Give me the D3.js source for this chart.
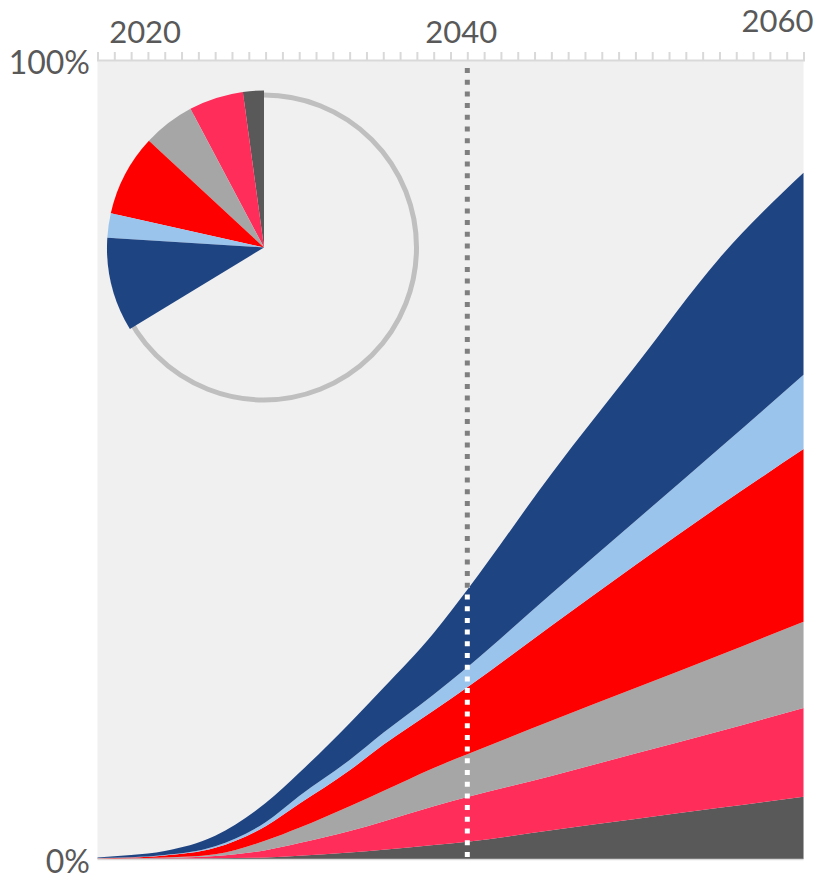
<!DOCTYPE html>
<html>

<head>
    <meta charset="utf-8">
    <script src="https://d3js.org/d3.v7.min.js"></script>
    <style>
        body { margin: 0; background: #fff; }
        text { font-family: Lato, "Open Sans", sans-serif; }
    </style>
</head>

<body>
    <script>
        // years, values are the share (%) of each layer
        var years = [2018, 2020, 2022, 2025, 2028, 2030, 2033, 2035, 2038, 2040, 2045, 2050, 2055, 2060];

        var darkGrey  = [0.02, 0.03, 0.05, 0.1, 0.2, 0.4, 0.8, 1.15, 1.75, 2.15, 3.6, 5.0, 6.4, 7.8];
        var pink      = [0.02, 0.03, 0.07, 0.28, 0.9, 1.6, 2.7, 3.55, 4.85, 5.61, 6.8, 8.2, 9.6, 11.1];
        var grey      = [0.02, 0.03, 0.06, 0.22, 1.2, 1.9, 3.1, 3.8, 4.8, 5.34, 6.9, 8.2, 9.5, 10.8];
        var red       = [0.04, 0.1, 0.26, 0.8, 1.8, 3.0, 4.5, 5.8, 7.2, 8.4, 11.9, 15.4, 18.7, 21.6];
        var lightBlue = [0.02, 0.03, 0.06, 0.2, 0.5, 1.0, 1.3, 1.5, 2.0, 2.5, 4.0, 5.5, 7.2, 9.3];
        var darkBlue  = [0.08, 0.28, 0.5, 1.3, 2.4, 2.9, 4.6, 5.6, 7.7, 9.7, 15.0, 19.4, 23.8, 25.3];

        var seriesNames = ["darkGrey", "pink", "grey", "red", "lightBlue", "darkBlue"];
        var seriesValues = [darkGrey, pink, grey, red, lightBlue, darkBlue];
        var seriesColors = ["#595959", "#ff2d5a", "#a6a6a6", "#ff0000", "#9bc4ec", "#1f4482"];

        var yearLabels = [2020, 2040, 2060];
        var percentLabels = [0, 1];
        var markerYear = 2040;   // dotted line + pie show this year
    </script>
    <script>
        var outerWidth = 828, outerHeight = 882,
            margin = { top: 60, right: 24.5, bottom: 23, left: 97.5 },
            width = outerWidth - margin.left - margin.right,
            height = outerHeight - margin.top - margin.bottom;

        var svg = d3.select("body").append("svg")
            .attr("width", outerWidth)
            .attr("height", outerHeight);

        var g = svg.append("g")
            .attr("transform", "translate(" + margin.left + "," + margin.top + ")");

        // one row per year, keyed by series name
        var table = years.map(function (yr, i) {
            var row = { year: yr };
            seriesNames.forEach(function (name, s) { row[name] = seriesValues[s][i] / 100; });
            return row;
        });

        var stacked = d3.stack().keys(seriesNames)(table);

        var xScale = d3.scaleLinear()
            .domain(d3.extent(years))
            .range([0, width]);

        var yScale = d3.scaleLinear()
            .domain([0, 1])
            .range([height, 0]);

        g.append("rect")
            .attr("width", width)
            .attr("height", height)
            .attr("fill", "#f0f0f0");

        // grey part of the marker sits under the areas
        var markerX = xScale(markerYear);
        function markerLine(colour) {
            return g.append("line")
                .attr("x1", markerX).attr("x2", markerX)
                .attr("y1", 8).attr("y2", height)
                .attr("stroke", colour)
                .attr("stroke-width", 5)
                .attr("stroke-dasharray", "5,6.7");
        }
        markerLine("#7f7f7f");

        var area = d3.area()
            .curve(d3.curveMonotoneX)
            .x(function (d) { return xScale(d.data.year); })
            .y0(function (d) { return yScale(d[0]); })
            .y1(function (d) { return yScale(d[1]); });

        g.selectAll("path.layer")
            .data(stacked)
            .enter().append("path")
            .attr("class", "layer")
            .attr("fill", function (d, i) { return seriesColors[i]; })
            .attr("d", area);

        // white part of the marker only where the stack is
        var totalArea = d3.area()
            .curve(d3.curveMonotoneX)
            .x(function (d) { return xScale(d.data.year); })
            .y0(yScale(0))
            .y1(function (d) { return yScale(d[1]); });

        g.append("clipPath").attr("id", "stack-clip")
            .append("path")
            .attr("d", totalArea(stacked[stacked.length - 1]));

        markerLine("#ffffff").attr("clip-path", "url(#stack-clip)");

        // baseline
        g.append("line")
            .attr("x1", 0).attr("x2", width)
            .attr("y1", height + 0.5).attr("y2", height + 0.5)
            .attr("stroke", "#d9d9d9")
            .attr("stroke-width", 1.5);

        // top axis: a tick for every year, labels placed separately
        var topAxis = g.append("g")
            .attr("class", "top-axis")
            .call(d3.axisTop(xScale)
                .tickValues(d3.range(years[0], years[years.length - 1] + 1))
                .tickSize(8)
                .tickFormat(""));
        topAxis.selectAll("line, path")
            .attr("stroke", "#d9d9d9")
            .attr("stroke-width", 2);

        g.selectAll("text.year")
            .data(yearLabels)
            .enter().append("text")
            .attr("class", "year")
            .attr("x", function (d, i) {
                return i === yearLabels.length - 1 ? xScale(d) + 10 : xScale(d) + (i === 0 ? 14 : -6);
            })
            .attr("y", function (d, i) { return i === yearLabels.length - 1 ? -28 : -17; })
            .attr("text-anchor", function (d, i) { return i === yearLabels.length - 1 ? "end" : "middle"; })
            .attr("fill", "#595959")
            .style("font-size", "31px")
            .text(function (d) { return d; });

        var leftAxis = g.append("g")
            .attr("class", "left-axis")
            .call(d3.axisLeft(yScale)
                .tickValues(percentLabels)
                .tickSize(0)
                .tickPadding(7.5)
                .tickFormat(d3.format(".0%")));
        leftAxis.select(".domain").remove();
        leftAxis.selectAll("text")
            .attr("fill", "#595959")
            .attr("dy", "0.42em")
            .style("font-size", "32px")
            .style("font-family", "Lato, 'Open Sans', sans-serif");

        // pie of the marker year, drawn counter-clockwise from 12 o'clock
        var markerIndex = years.indexOf(markerYear);
        var pieG = svg.append("g").attr("transform", "translate(264,247.5)");

        pieG.append("circle")
            .attr("r", 152.5)
            .attr("fill", "none")
            .attr("stroke", "#bfbfbf")
            .attr("stroke-width", 5);

        var arc = d3.arc().innerRadius(0).outerRadius(157);
        var cum = 0;
        var slices = seriesValues.map(function (vals, s) {
            var start = cum;
            cum += vals[markerIndex] / 100 * 2 * Math.PI;
            return { startAngle: -cum, endAngle: -start, color: seriesColors[s] };
        });

        pieG.selectAll("path.slice")
            .data(slices)
            .enter().append("path")
            .attr("class", "slice")
            .attr("fill", function (d) { return d.color; })
            .attr("d", arc);
    </script>
</body>

</html>
